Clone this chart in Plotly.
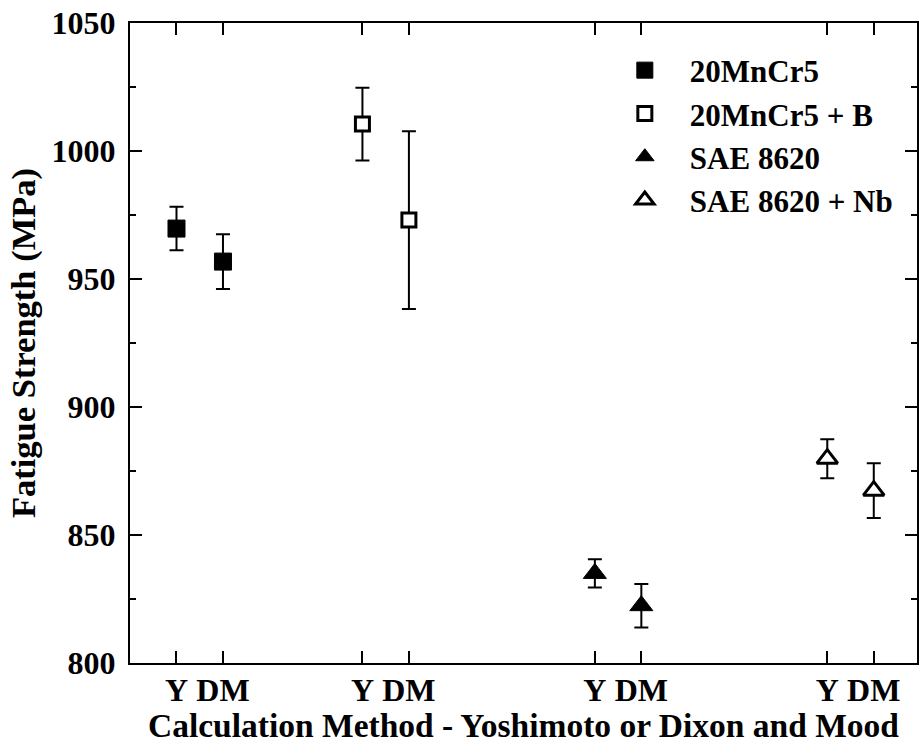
import plotly.graph_objects as go

# ---- data ----
methods = ["Y", "DM"]
tick_positions = [1, 2, 5, 6, 10, 11, 15, 16]
tick_labels = ["Y", "DM", "Y", "DM", "Y", "DM", "Y", "DM"]

materials = ["20MnCr5", "20MnCr5 + B", "SAE 8620", "SAE 8620 + Nb"]
x_20mncr5 = [1, 2]
x_20mncr5_b = [5, 6]
x_sae8620 = [10, 11]
x_sae8620_nb = [15, 16]

y_20mncr5 = [969.7, 956.8]
err_20mncr5 = [8.5, 10.7]
y_20mncr5_b = [1010.5, 973.0]
err_20mncr5_b = [14.2, 34.7]
y_sae8620 = [835.0, 822.4]
err_sae8620 = [5.5, 8.5]
y_sae8620_nb = [879.8, 867.3]
err_sae8620_nb = [7.6, 10.7]

FONT = "Liberation Serif"
fig = go.Figure()

series = [
    (materials[0], x_20mncr5, y_20mncr5, err_20mncr5,
     dict(symbol="square", size=17, color="black", line=dict(color="black", width=1))),
    (materials[1], x_20mncr5_b, y_20mncr5_b, err_20mncr5_b,
     dict(symbol="square", size=14, color="white", line=dict(color="black", width=3))),
    (materials[2], x_sae8620, y_sae8620, err_sae8620,
     dict(symbol="triangle-up", size=20, color="black", line=dict(color="black", width=1))),
    (materials[3], x_sae8620_nb, y_sae8620_nb, err_sae8620_nb,
     dict(symbol="triangle-up", size=18, color="white", line=dict(color="black", width=3))),
]
for name, xs, ys, es, mk in series:
    fig.add_trace(go.Scatter(
        x=xs, y=ys, name=name, mode="markers", marker=mk,
        error_y=dict(type="data", array=es, visible=True, color="black",
                     thickness=2, width=7),
    ))

axis_common = dict(
    showline=True, linecolor="black", linewidth=2, mirror="allticks",
    ticks="inside", ticklen=12, tickwidth=2, tickcolor="black",
    showgrid=False, zeroline=False,
    tickfont=dict(family=FONT, size=32, color="black", weight="bold"),
)

fig.update_xaxes(
    range=[0, 16.93], tickmode="array", tickvals=tick_positions, ticktext=tick_labels,
    title=dict(text="Calculation Method - Yoshimoto or Dixon and Mood",
               font=dict(family=FONT, size=33.5, color="black", weight="bold"), standoff=2),
    ticklabelstandoff=-2,
    **axis_common,
)
fig.update_yaxes(
    range=[800, 1050], dtick=50, tick0=800,
    minor=dict(dtick=25, ticks="inside", ticklen=6, tickwidth=2, tickcolor="black"),
    title=dict(text="Fatigue Strength (MPa)",
               font=dict(family=FONT, size=34.5, color="black", weight="bold"), standoff=6),
    ticklabelstandoff=6,
    **axis_common,
)

fig.update_layout(
    width=921, height=744,
    margin=dict(l=130, r=2, t=23, b=81),
    paper_bgcolor="white", plot_bgcolor="white",
    font=dict(family=FONT, color="black"),
    legend=dict(
        x=0.597, y=0.968, xanchor="left", yanchor="top",
        font=dict(family=FONT, size=31, color="black", weight="bold"),
        bgcolor="rgba(0,0,0,0)", itemwidth=80, tracegroupgap=0,
    ),
)

fig.write_html("out.html")
